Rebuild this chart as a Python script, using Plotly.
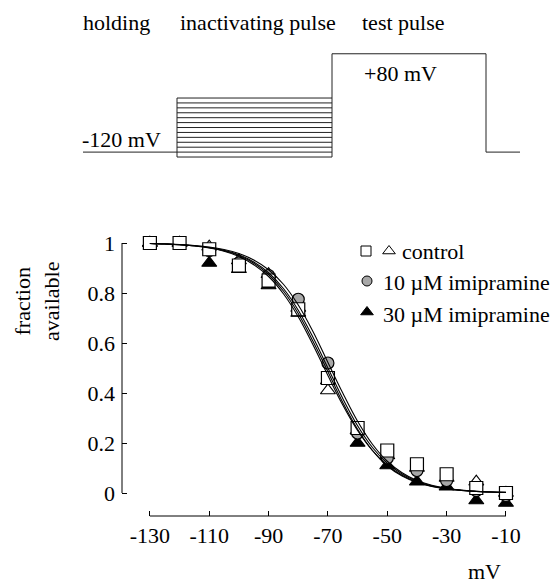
import plotly.graph_objects as go

# ---------------- data ----------------
voltages = [-130, -120, -110, -100, -90, -80, -70, -60, -50, -40, -30, -20, -10]
control_sq = [1.0, 1.0, 0.975, 0.91, 0.85, 0.735, 0.46, 0.26, 0.17, 0.115, 0.075, 0.02, 0.0]
control_tri = [1.0, 1.0, 0.985, 0.93, 0.875, 0.74, 0.41, 0.25, 0.15, 0.10, 0.06, 0.045, 0.0]
imip10 = [1.0, 1.0, 0.97, 0.92, 0.87, 0.775, 0.52, 0.24, 0.14, 0.09, 0.05, 0.01, -0.01]
imip30 = [1.0, 1.0, 0.92, 0.895, 0.83, 0.72, 0.45, 0.20, 0.11, 0.045, 0.025, -0.03, -0.04]

# fitted curves (every 5 mV)
curve_v = [-130, -125, -120, -115, -110, -105, -100, -95, -90, -85, -80, -75, -70,
           -65, -60, -55, -50, -45, -40, -35, -30, -25, -20, -15, -10]
fit_sq = [0.998, 0.996, 0.993, 0.989, 0.982, 0.971, 0.953, 0.924, 0.881, 0.818, 0.731, 0.622, 0.50,
          0.378, 0.269, 0.182, 0.119, 0.076, 0.047, 0.029, 0.018, 0.011, 0.007, 0.004, 0.003]
fit_tri = [0.998, 0.996, 0.993, 0.988, 0.980, 0.967, 0.946, 0.913, 0.866, 0.797, 0.705, 0.592, 0.470,
           0.352, 0.250, 0.170, 0.111, 0.071, 0.044, 0.027, 0.017, 0.010, 0.006, 0.004, 0.002]
fit_10 = [0.998, 0.997, 0.994, 0.990, 0.984, 0.974, 0.958, 0.932, 0.893, 0.835, 0.752, 0.645, 0.522,
          0.400, 0.287, 0.195, 0.127, 0.081, 0.050, 0.031, 0.019, 0.012, 0.007, 0.004, 0.003]
fit_30 = [0.998, 0.996, 0.993, 0.989, 0.981, 0.969, 0.950, 0.919, 0.874, 0.808, 0.718, 0.606, 0.485,
          0.362, 0.255, 0.170, 0.108, 0.068, 0.042, 0.026, 0.016, 0.010, 0.006, 0.004, 0.002]

x_ticks = [-130, -110, -90, -70, -50, -30, -10]
x_ticktext = ["-130", "-110", "-90", "-70", "-50", "-30", "-10"]
y_ticks = [0, 0.2, 0.4, 0.6, 0.8, 1]
y_ticktext = ["0", "0.2", "0.4", "0.6", "0.8", "1"]

legend_labels = ["control", "10 µM imipramine", "30 µM imipramine"]

# voltage protocol (mV) and its timing (ms, arbitrary)
hold_v = -120
step_vs = [-130, -120, -110, -100, -90, -80, -70, -60, -50, -40, -30, -20, -10]
test_v = 80
t_start, t_pulse, t_test, t_test_end, t_end = 0, 94, 249, 403, 437

FONT = "Liberation Serif, Times New Roman, serif"
FS = 22
W, H = 554, 584


def px(x):
    return x / W


def py(y):
    return 1 - y / H


fig = go.Figure()

# ---------------- protocol diagram ----------------
pl = dict(color="#222", width=1)
fig.add_trace(go.Scatter(x=[t_start, t_pulse], y=[hold_v, hold_v], mode="lines", line=pl,
                         xaxis="x2", yaxis="y2", showlegend=False, hoverinfo="skip"))
sx, sy = [], []
for v in step_vs:
    sx += [t_pulse, t_test, None]
    sy += [v, v, None]
fig.add_trace(go.Scatter(x=sx, y=sy, mode="lines", line=pl, xaxis="x2", yaxis="y2",
                         showlegend=False, hoverinfo="skip"))
fig.add_trace(go.Scatter(x=[t_pulse, t_pulse], y=[min(step_vs), max(step_vs)], mode="lines", line=pl,
                         xaxis="x2", yaxis="y2", showlegend=False, hoverinfo="skip"))
fig.add_trace(go.Scatter(x=[t_test, t_test, t_test_end, t_test_end, t_end],
                         y=[min(step_vs), test_v, test_v, hold_v, hold_v], mode="lines", line=pl,
                         xaxis="x2", yaxis="y2", showlegend=False, hoverinfo="skip"))

# ---------------- data markers ----------------
sq_m = dict(symbol="square", size=13, color="white", line=dict(color="black", width=1.2))
otri_m = dict(symbol="triangle-up", size=13, color="white", line=dict(color="black", width=1.2))
ftri_m = dict(symbol="triangle-up", size=13, color="black", line=dict(color="black", width=1.2))
circ_m = dict(symbol="circle", size=12, color="#a8a8a8", line=dict(color="black", width=1.2))

fig.add_trace(go.Scatter(x=voltages, y=control_tri, mode="markers", showlegend=False, marker=otri_m))
fig.add_trace(go.Scatter(x=voltages, y=imip30, mode="markers", showlegend=False, marker=ftri_m))
fig.add_trace(go.Scatter(x=voltages, y=imip10, mode="markers", showlegend=False, marker=circ_m))
fig.add_trace(go.Scatter(x=voltages, y=control_sq, mode="markers", showlegend=False, marker=sq_m))

# ---------------- fitted curves ----------------
for c in (fit_sq, fit_tri, fit_10, fit_30):
    fig.add_trace(go.Scatter(x=curve_v, y=c, mode="lines", line=dict(color="black", width=1.1, shape="spline"),
                             showlegend=False, hoverinfo="skip"))

# ---------------- legend keys (overlay axis in pixel units) ----------------
key_x = 367
row_y = [251, 281, 312]
keys = [
    (366, row_y[0], dict(symbol="square", size=10, color="white", line=dict(color="black", width=1))),
    (389, row_y[0], dict(symbol="triangle-up", size=11, color="white", line=dict(color="black", width=1))),
    (key_x, row_y[1], dict(symbol="circle", size=10, color="#a8a8a8", line=dict(color="black", width=1))),
    (key_x, row_y[2], dict(symbol="triangle-up", size=11, color="black", line=dict(color="black", width=1))),
]
for kx, ky, km in keys:
    fig.add_trace(go.Scatter(x=[kx], y=[ky], mode="markers", marker=km, xaxis="x3", yaxis="y3",
                             showlegend=False, hoverinfo="skip"))

axis_common = dict(showgrid=False, zeroline=False, showline=False, ticks="inside", ticklen=5,
                   tickcolor="black", tickwidth=1, tickfont=dict(family=FONT, size=FS, color="black"))

annotations = [
    dict(text="holding", x=px(116), y=py(22), xanchor="center"),
    dict(text="inactivating pulse", x=px(257.5), y=py(22), xanchor="center"),
    dict(text="test pulse", x=px(403.5), y=py(22), xanchor="center"),
    dict(text="-120 mV", x=px(121.5), y=py(139.5), xanchor="center"),
    dict(text="+80 mV", x=px(400.5), y=py(74), xanchor="center"),
    dict(text="fraction<br>available", x=px(37), y=py(302), xanchor="center", textangle=-90),
    dict(text=legend_labels[0], x=px(400), y=py(row_y[0] + 1), xanchor="left"),
    dict(text=legend_labels[1], x=px(381), y=py(row_y[1] + 1), xanchor="left"),
    dict(text=legend_labels[2], x=px(381), y=py(row_y[2] + 2), xanchor="left"),
]
for a in annotations:
    a.update(xref="paper", yref="paper", showarrow=False, yanchor="middle")
annotations.append(dict(text="mV", x=px(484), y=0, xref="paper", yref="paper", showarrow=False,
                        xanchor="center", yanchor="bottom", yshift=-2))

fig.update_layout(
    width=W, height=H, autosize=False,
    margin=dict(l=0, r=0, t=0, b=0),
    paper_bgcolor="white", plot_bgcolor="rgba(0,0,0,0)",
    font=dict(family=FONT, size=FS, color="black"),
    showlegend=False,
    xaxis=dict(domain=[px(122), px(530)], range=[-139.4, -1.9], tickvals=x_ticks, ticktext=x_ticktext,
               ticklabelstandoff=4, **axis_common),
    yaxis=dict(domain=[py(516), py(230)], range=[-0.092, 1.052], tickvals=y_ticks, ticktext=y_ticktext,
               ticklabelstandoff=6, **axis_common),
    xaxis2=dict(domain=[0, 1], range=[-83, 471], visible=False, anchor="y2"),
    yaxis2=dict(domain=[py(170), py(40)], range=[-156.4, 108], visible=False, anchor="x2"),
    xaxis3=dict(domain=[0, 1], range=[0, W], visible=False, anchor="y3"),
    yaxis3=dict(domain=[0, 1], range=[H, 0], visible=False, anchor="x3"),
    shapes=[
        dict(type="line", xref="x", yref="y domain", x0=-130, x1=-10, y0=0, y1=0,
             line=dict(color="black", width=1)),
        dict(type="line", xref="x domain", yref="y", x0=0, x1=0, y0=0, y1=1,
             line=dict(color="black", width=1)),
    ],
    annotations=annotations,
)

fig.write_html("out.html")
